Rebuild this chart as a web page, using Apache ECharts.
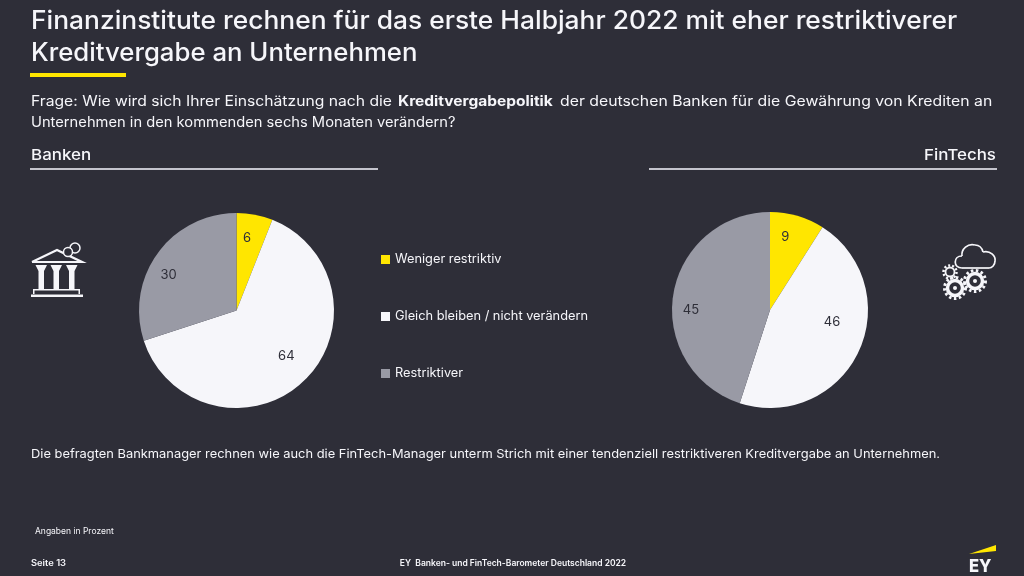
<!DOCTYPE html>
<html><head><meta charset="utf-8">
<style>html,body{margin:0;padding:0;background:#2E2E38}#c{width:1024px;height:576px}</style>
<script src="https://cdn.jsdelivr.net/npm/echarts@6/dist/echarts.min.js"></script>
</head><body><div id="c"></div>
<script>
const categories = ['Weniger restriktiv', 'Gleich bleiben / nicht verändern', 'Restriktiver'];
const banken = [6, 64, 30];
const fintechs = [9, 46, 45];
const colors = ['#FFE600', '#F6F6FA', '#999AA5'];
const bankLabelShift = [[-3,-1],[0,-7],[-9,7]];
const fintechLabelShift = [[-5,-3],[-4,-19],[-7,12]];
const FONT = 'Inter, "Open Sans", sans-serif';
const WHITE = '#F6F6FA', BG = '#2E2E38';

function toData(vals){ return categories.map((name,i)=>({name, value:vals[i]})); }
function pie(vals, cx, cy, r, shift){
  return [{
    type:'pie', center:[cx,cy], radius:[0,r], startAngle:90, clockwise:true, silent:true,
    animation:false, label:{show:false}, labelLine:{show:false}, data:toData(vals),
    itemStyle:{borderWidth:0}
  },{
    type:'pie', center:[cx,cy], radius:[42,r], startAngle:90, clockwise:true, silent:true,
    animation:false, itemStyle:{color:'transparent',borderWidth:0}, labelLine:{show:false},
    label:{show:true, position:'inside', formatter:'{c}', color:'#2E2E38', fontFamily:FONT, fontSize:13},
    data:toData(vals).map((d,i)=>Object.assign(d,{label:{offset:shift[i]}})), legendHoverLink:false
  }];
}
function txt(text,x,y,size,opt={}){
  return {type:'text', x, y, scaleX:opt.sx||1, style:{text, fill:WHITE, font:`${opt.weight||400} ${size}px ${FONT}`,
    textAlign:opt.align||'left', textVerticalAlign:'middle'}};
}
function rect(x,y,w,h,fill){ return {type:'rect', shape:{x,y,width:w,height:h}, style:{fill:fill||WHITE}}; }
function poly(points,fill){ return {type:'polygon', shape:{points}, style:{fill:fill||WHITE}}; }
function ring(cx,cy,r,lw,dash){ return {type:'circle', shape:{cx,cy,r}, style:{fill:'none',stroke:WHITE,lineWidth:lw,lineDash:dash||null}}; }
function curve(x1,y1,cpx1,cpy1,cpx2,cpy2,x2,y2){ return {type:'bezierCurve', shape:{x1,y1,cpx1,cpy1,cpx2,cpy2,x2,y2}, style:{fill:'none',stroke:WHITE,lineWidth:1.7}}; }

const bank = [
  {type:'polyline', shape:{points:[[32,262],[57,250],[82,262],[32,262]]}, style:{fill:'none',stroke:WHITE,lineWidth:2.2}},
  ...[35.5,50.5,66].map(x=>poly([[x,265],[x+11.5,265],[x+8.5,271],[x+8.5,289],[x+3,289],[x+3,271]])),
  rect(33,289,47,1.5), rect(33,289,1.5,5), rect(78.5,289,1.5,5),
  rect(31,294.5,52,2.5),
  {type:'circle', shape:{cx:75,cy:248,r:5}, style:{fill:BG,stroke:WHITE,lineWidth:1.5}},
  {type:'circle', shape:{cx:68,cy:252,r:4.5}, style:{fill:BG,stroke:WHITE,lineWidth:1.5}}
];
const cloud = [
  curve(962,268,953,268,953,256,962,256),
  curve(962,256,961,249,968,243,975,245),
  curve(975,245,979,245,982,248,983,252),
  curve(983,252,990,250,996,256,995,261),
  curve(995,261,995,265,992,268,989,268),
  {type:'line', shape:{x1:962,y1:268,x2:989,y2:268}, style:{stroke:WHITE,lineWidth:1.7}},
  ring(950,272,4.5,1.8), ring(950,272,6.5,2.5,[2,2]),
  ring(955,288,7.5,3.5), ring(955,288,10.5,3,[2.5,2.5]), {type:'circle',shape:{cx:955,cy:288,r:2},style:{fill:WHITE}},
  ring(975,281,7.5,3.5), ring(975,281,10.5,3,[2.5,2.5]), {type:'circle',shape:{cx:975,cy:281,r:2},style:{fill:WHITE}}
];

const chart = echarts.init(document.getElementById('c'), null, {renderer:'canvas'});
chart.setOption({
  backgroundColor:BG, animation:false, color:colors,
  legend:{orient:'vertical', left:376, top:247, itemWidth:9, itemHeight:9, itemGap:42, icon:'rect',
    selectedMode:false, data:categories,
    textStyle:{color:WHITE, fontFamily:FONT, fontSize:12.8, padding:0, height:15, lineHeight:15}},
  series:[...pie(banken,236.5,310.5,97.5,bankLabelShift), ...pie(fintechs,770,310,98,fintechLabelShift)],
  graphic:[
    txt('Finanzinstitute rechnen für das erste Halbjahr 2022 mit eher restriktiverer',31,21,25,{weight:500,sx:1.055}),
    txt('Kreditvergabe an Unternehmen',31,53,25,{weight:500,sx:1.03}),
    rect(30,73,96,4,'#FFE600'),
    txt('Frage: Wie wird sich Ihrer Einschätzung nach die',31,102,14,{sx:1.12}),
    txt('Kreditvergabepolitik',398,102,14,{weight:700,sx:1.107}),
    txt('der deutschen Banken für die Gewährung von Krediten an',560,102,14,{sx:1.128}),
    txt('Unternehmen in den kommenden sechs Monaten verändern?',31,123,14,{sx:1.05}),
    txt('Banken',31,155,15,{weight:500,sx:1.13}),
    txt('FinTechs',996,155,15,{weight:500,align:'right',sx:1.13}),
    rect(30,168,348,2,'#C4C4CD'), rect(649,168,348,2,'#C4C4CD'),
    txt('Die befragten Bankmanager rechnen wie auch die FinTech-Manager unterm Strich mit einer tendenziell restriktiveren Kreditvergabe an Unternehmen.',31,454,12,{sx:1.073}),
    txt('Angaben in Prozent',35,531,8.5),
    txt('Seite 13',31,563,8.5,{weight:600,sx:1.1}),
    txt('EY  Banken- und FinTech-Barometer Deutschland 2022',513,563,8.5,{weight:600,align:'center'}),
    poly([[969,554],[996,545],[996,551]],'#FFE600'),
    txt('EY',969,566.5,18,{weight:800,sx:0.92}),
    ...bank, ...cloud
  ]
});
</script></body></html>
